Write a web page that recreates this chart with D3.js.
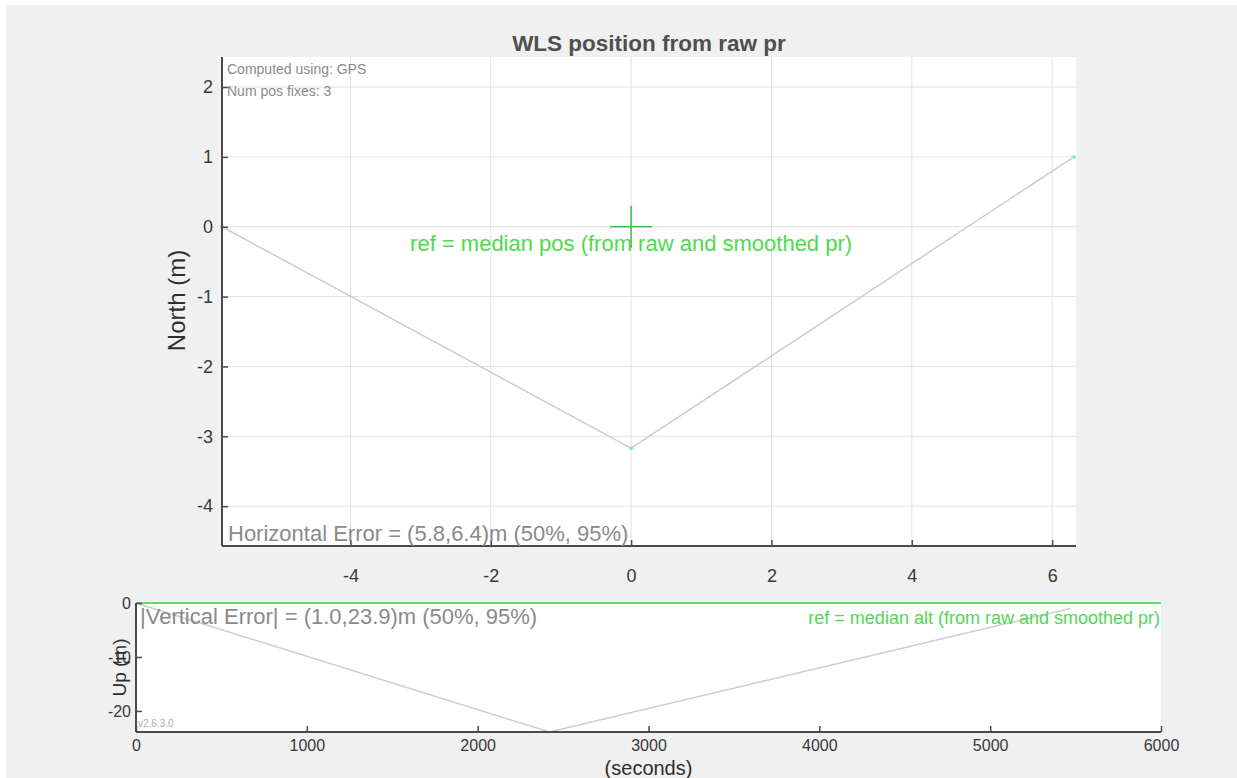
<!DOCTYPE html>
<html>
<head>
<meta charset="utf-8">
<script src="https://cdn.jsdelivr.net/npm/d3@7"></script>
<style>
  html, body { margin: 0; padding: 0; background: #ffffff; }
  svg { display: block; }
  text { font-family: "Liberation Sans", Arial, Helvetica, sans-serif; }
</style>
</head>
<body>
<svg id="chart" width="1237" height="778"></svg>
<script>
// Position fixes relative to the median reference position (metres)
const fixEast  = [-5.83, 0.0, 6.31];
const fixNorth = [0.0, -3.17, 1.0];

// Vertical offsets of the same fixes over time
const fixTime = [0, 2420, 5470];   // seconds
const fixUp   = [0.0, -23.9, -1.0]; // metres

// Axis tick values
const eastTicks  = [-4, -2, 0, 2, 4, 6];
const northTicks = [-4, -3, -2, -1, 0, 1, 2];
const timeTicks  = [0, 1000, 2000, 3000, 4000, 5000, 6000];
const upTicks    = [-20, -10, 0];

// Axis limits
const eastDomain  = [-5.83, 6.34];
const northDomain = [-4.57, 2.43];
const timeDomain  = [0, 6000];
const upDomain    = [-23.9, 0];

// Reference marker half-size (metres)
const refMark = 0.3;

const titleText   = "WLS position from raw pr";
const infoLines   = ["Computed using: GPS", "Num pos fixes: 3"];
const hErrText    = "Horizontal Error = (5.8,6.4)m (50%, 95%)";
const refPosText  = "ref = median pos (from raw and smoothed pr)";
const vErrText    = "|Vertical Error| = (1.0,23.9)m (50%, 95%)";
const refAltText  = "ref = median alt (from raw and smoothed pr)";
const versionText = "v2.6.3.0";

const svg = d3.select("#chart");
const W = 1237, H = 778;

// figure background
svg.append("rect").attr("x", 6).attr("y", 5).attr("width", W - 6).attr("height", H - 5).attr("fill", "#f0f0f0");

const axisColor = "#4a4a4a";
const tickColor = "#383838";
const lineColor = "#cdcdcd";
const green = "#4fd94f";
const plainNum = d => String(d);   // ASCII hyphen for negatives

// ---------- upper panel: North vs East ----------
const pU = { left: 222, right: 1076, top: 57, bottom: 546 };
const xE = d3.scaleLinear().domain(eastDomain).range([pU.left, pU.right]);
const yN = d3.scaleLinear().domain(northDomain).range([pU.bottom, pU.top]);

const gTop = svg.append("g");
gTop.append("rect")
  .attr("x", pU.left).attr("y", pU.top)
  .attr("width", pU.right - pU.left).attr("height", pU.bottom - pU.top)
  .attr("fill", "#ffffff");

// grid
gTop.append("g").selectAll("line").data(eastTicks).join("line")
  .attr("x1", d => xE(d)).attr("x2", d => xE(d))
  .attr("y1", pU.top).attr("y2", pU.bottom)
  .attr("stroke", "#e2e2e2").attr("stroke-width", 1);
gTop.append("g").selectAll("line").data(northTicks).join("line")
  .attr("x1", pU.left).attr("x2", pU.right)
  .attr("y1", d => yN(d)).attr("y2", d => yN(d))
  .attr("stroke", "#e2e2e2").attr("stroke-width", 1);

// track
const topPts = fixEast.map((e, i) => [e, fixNorth[i]]);
gTop.append("path")
  .datum(topPts)
  .attr("fill", "none")
  .attr("stroke", lineColor)
  .attr("stroke-width", 1.5)
  .attr("d", d3.line().x(d => xE(d[0])).y(d => yN(d[1])));
gTop.append("g").selectAll("circle").data(topPts).join("circle")
  .attr("cx", d => xE(d[0])).attr("cy", d => yN(d[1]))
  .attr("r", 2).attr("fill", "#7fe8e8");

// reference cross
gTop.append("line")
  .attr("x1", xE(-refMark)).attr("x2", xE(refMark))
  .attr("y1", yN(0)).attr("y2", yN(0))
  .attr("stroke", "#3cc43c").attr("stroke-width", 1.5);
gTop.append("line")
  .attr("x1", xE(0)).attr("x2", xE(0))
  .attr("y1", yN(-refMark)).attr("y2", yN(refMark))
  .attr("stroke", "#3cc43c").attr("stroke-width", 1.5);

// axes
const axE = d3.axisBottom(xE).tickValues(eastTicks).tickSize(-6).tickPadding(23).tickFormat(plainNum);
const axN = d3.axisLeft(yN).tickValues(northTicks).tickSize(-6).tickPadding(9).tickFormat(plainNum);

function styleAxis(g, fontSize) {
  g.select(".domain").attr("stroke", axisColor).attr("stroke-width", 2);
  g.selectAll(".tick line").attr("stroke", axisColor).attr("stroke-width", 1.5);
  g.selectAll(".tick text")
    .attr("fill", tickColor)
    .style("font-size", fontSize + "px")
    .style("font-family", "'Liberation Sans', Arial, sans-serif");
}

const gAxE = gTop.append("g").attr("transform", `translate(0,${pU.bottom})`).call(axE);
gAxE.select(".domain").attr("d", `M${pU.left},0H${pU.right}`);
styleAxis(gAxE, 18);
const gAxN = gTop.append("g").attr("transform", `translate(${pU.left},0)`).call(axN);
gAxN.select(".domain").attr("d", `M0,${pU.top}V${pU.bottom}`);
styleAxis(gAxN, 18);

// texts
gTop.append("text")
  .attr("x", (pU.left + pU.right) / 2).attr("y", 51)
  .attr("text-anchor", "middle")
  .attr("font-weight", "bold")
  .attr("fill", "#4f4f4f")
  .style("font-size", "22.5px")
  .text(titleText);

gTop.append("g").selectAll("text").data(infoLines).join("text")
  .attr("x", pU.left + 5).attr("y", (d, i) => 74 + i * 22)
  .attr("fill", "#8a8a8a")
  .style("font-size", "14px")
  .text(d => d);

gTop.append("text")
  .attr("x", xE(0)).attr("y", yN(0) + 24)
  .attr("text-anchor", "middle")
  .attr("fill", green)
  .style("font-size", "22px")
  .text(refPosText);

gTop.append("text")
  .attr("x", pU.left + 6).attr("y", pU.bottom - 5)
  .attr("fill", "#8a8a8a")
  .style("font-size", "22px")
  .text(hErrText);

gTop.append("text")
  .attr("x", -(pU.top + pU.bottom) / 2 + 1).attr("y", 185)
  .attr("transform", "rotate(-90)")
  .attr("text-anchor", "middle")
  .attr("fill", "#2e2e2e")
  .style("font-size", "24px")
  .text("North (m)");

// ---------- lower panel: Up vs time ----------
const pL = { left: 136, right: 1161, top: 603, bottom: 732 };
const xT = d3.scaleLinear().domain(timeDomain).range([pL.left, pL.right]);
const yU = d3.scaleLinear().domain(upDomain).range([pL.bottom, pL.top]);

const gBot = svg.append("g");
gBot.append("rect")
  .attr("x", pL.left).attr("y", pL.top - 2)
  .attr("width", pL.right - pL.left).attr("height", pL.bottom - pL.top + 2)
  .attr("fill", "#ffffff");

const botPts = fixTime.map((t, i) => [t, fixUp[i]]);
gBot.append("path")
  .datum(botPts)
  .attr("fill", "none")
  .attr("stroke", lineColor)
  .attr("stroke-width", 1.5)
  .attr("d", d3.line().x(d => xT(d[0])).y(d => yU(d[1])));

// median altitude reference line
gBot.append("line")
  .attr("x1", xT(timeDomain[0])).attr("x2", xT(timeDomain[1]))
  .attr("y1", yU(0)).attr("y2", yU(0))
  .attr("stroke", "#5ede5e").attr("stroke-width", 2);

const axT = d3.axisBottom(xT).tickValues(timeTicks).tickSize(-6).tickPadding(8).tickFormat(plainNum);
const axU = d3.axisLeft(yU).tickValues(upTicks).tickSize(-6).tickPadding(5).tickFormat(plainNum);
const gAxT = gBot.append("g").attr("transform", `translate(0,${pL.bottom})`).call(axT);
gAxT.select(".domain").attr("d", `M${pL.left},0H${pL.right}`);
styleAxis(gAxT, 16);
const gAxU = gBot.append("g").attr("transform", `translate(${pL.left},0)`).call(axU);
gAxU.select(".domain").attr("d", `M0,${pL.top}V${pL.bottom}`);
styleAxis(gAxU, 16);

gBot.append("text")
  .attr("x", pL.left + 4).attr("y", pL.top + 21)
  .attr("fill", "#8a8a8a")
  .style("font-size", "22px")
  .text(vErrText);

gBot.append("text")
  .attr("x", pL.right - 1).attr("y", pL.top + 21)
  .attr("text-anchor", "end")
  .attr("fill", green)
  .style("font-size", "18px")
  .text(refAltText);

gBot.append("text")
  .attr("x", pL.left + 2).attr("y", pL.bottom - 5)
  .attr("fill", "#b0b0b0")
  .style("font-size", "10px")
  .text(versionText);

gBot.append("text")
  .attr("x", (pL.left + pL.right) / 2).attr("y", 775)
  .attr("text-anchor", "middle")
  .attr("fill", "#2e2e2e")
  .style("font-size", "20px")
  .text("(seconds)");

gBot.append("text")
  .attr("x", -(pL.top + pL.bottom) / 2).attr("y", 126)
  .attr("transform", "rotate(-90)")
  .attr("text-anchor", "middle")
  .attr("fill", "#2e2e2e")
  .style("font-size", "19px")
  .text("Up (m)");
</script>
</body>
</html>
